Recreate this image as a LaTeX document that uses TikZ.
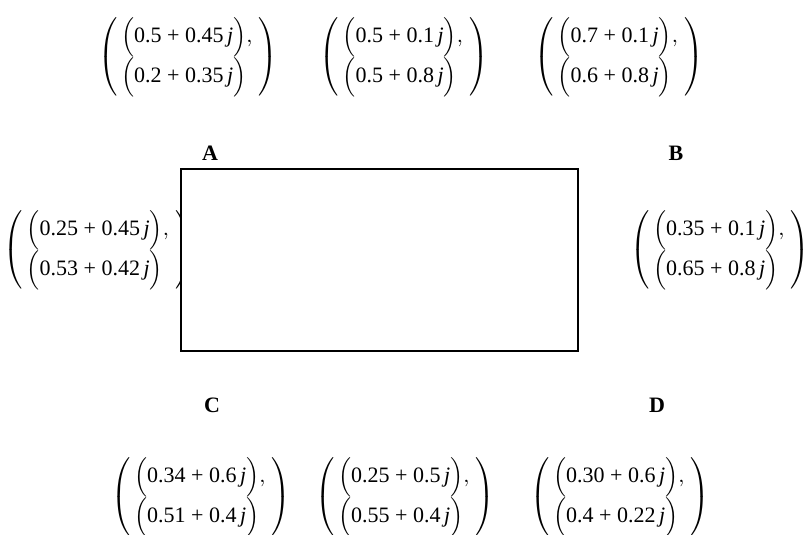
\documentclass[tikz,border=0pt]{standalone}
\usepackage{amsmath}
\usepackage{fontspec}
\setmainfont{Liberation Serif}
\usetikzlibrary{positioning}

\newcommand{\cnum}[2]{\text{#1 + #2\,\textit{j}}}
\newcommand{\cpair}[4]{$\left(\begin{array}{@{\,}l@{\;}}
  \Bigl(\cnum{#1}{#2}\Bigr),\\[3.5pt]
  \Bigl(\cnum{#3}{#4}\Bigr)\end{array}\right)$}

\begin{document}
\begin{tikzpicture}[x=0.5pt, y=-0.5pt, font=\fontsize{11}{13}\selectfont]
        \useasboundingbox (0,0) rectangle (810,535);
        % top row
        \node[inner sep=0pt] (topL) at (188,57) {\cpair{0.5}{0.45}{0.2}{0.35}};
        \node[inner sep=0pt] (topM) at (404,57) {\cpair{0.5}{0.1}{0.5}{0.8}};
        \node[inner sep=0pt] (topR) at (619,57) {\cpair{0.7}{0.1}{0.6}{0.8}};
        % sides
        \node[inner sep=0pt] (sideL) at (99,250) {\cpair{0.25}{0.45}{0.53}{0.42}};
        \node[inner sep=0pt] (sideR) at (720,250) {\cpair{0.35}{0.1}{0.65}{0.8}};
        \node[draw, fill=white, line width=0.8pt, minimum width=198.5pt,
              minimum height=91pt] (box) at (379.5,260) {};
        % corner labels
        \node[font=\fontsize{11}{13}\selectfont\bfseries] (lblA) at (210,153) {A};
        \node[font=\fontsize{11}{13}\selectfont\bfseries] (lblB) at (676,153) {B};
        \node[font=\fontsize{11}{13}\selectfont\bfseries] (lblC) at (212,405) {C};
        \node[font=\fontsize{11}{13}\selectfont\bfseries] (lblD) at (657,405) {D};
        % bottom row
        \node[inner sep=0pt] (botL) at (201,497) {\cpair{0.34}{0.6}{0.51}{0.4}};
        \node[inner sep=0pt] (botM) at (405,497) {\cpair{0.25}{0.5}{0.55}{0.4}};
        \node[inner sep=0pt] (botR) at (620,497) {\cpair{0.30}{0.6}{0.4}{0.22}};
      \end{tikzpicture}
\end{document}
